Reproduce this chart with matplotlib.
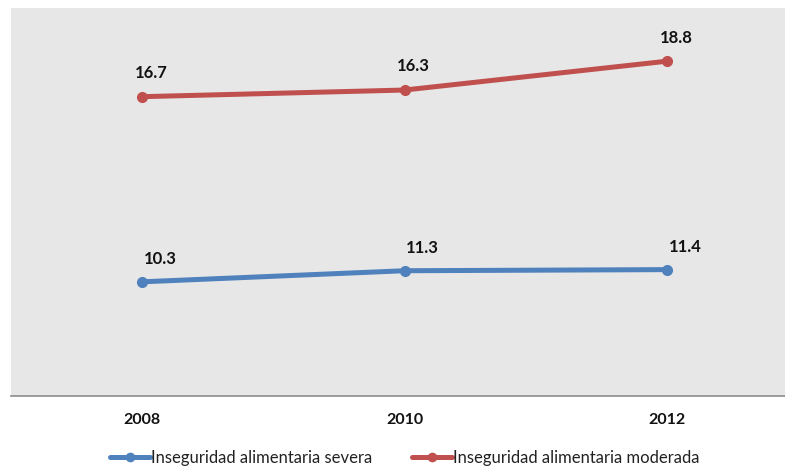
import matplotlib
matplotlib.use("Agg")
import matplotlib.pyplot as plt
import numpy as np

years = ["2008", "2010", "2012"]
severa = [10.3, 11.3, 11.4]
moderada = [16.7, 16.3, 18.8]
series_names = ["Inseguridad alimentaria severa", "Inseguridad alimentaria moderada"]

plt.rcParams['font.family'] = ['Lato', 'DejaVu Sans']

W, H = 785, 470
fig = plt.figure(figsize=(W/100, H/100), dpi=100)
ax = fig.add_axes([11/W, 1 - 396/H, 787/W, 388/H])
ax.set_facecolor("#E7E7E7")

x = np.arange(len(years))
stack_mod = np.array(severa) + np.array(moderada)

blue = "#4F81BD"
red = "#C0504D"
l1, = ax.plot(x, severa, color=blue, lw=3.6, marker="o", ms=7, solid_capstyle="round", label=series_names[0])
l2, = ax.plot(x, stack_mod, color=red, lw=3.6, marker="o", ms=7, solid_capstyle="round", label=series_names[1])

for xi, v, y in zip(x, severa, severa):
    ax.annotate(f"{v:.1f}", (xi, y), xytext=(13, 16.5), textcoords="offset points",
                ha="center", va="center", fontsize=12, fontweight="bold", color="#111111")
for xi, v, y in zip(x, moderada, stack_mod):
    ax.annotate(f"{v:.1f}", (xi, y), xytext=(6.5, 17), textcoords="offset points",
                ha="center", va="center", fontsize=12, fontweight="bold", color="#111111")

ax.set_xlim(-0.5, 2.5)
ax.set_ylim(0, 35)
ax.set_yticks([])
ax.set_xticks(x)
ax.set_xticklabels(years, fontsize=11.5, fontweight="bold", color="#111111")
ax.tick_params(axis="x", length=0, pad=12)
for s in ["top", "left", "right"]:
    ax.spines[s].set_visible(False)
ax.spines["bottom"].set_color("#8C8C8C")
ax.spines["bottom"].set_linewidth(1.2)

fig.legend(handles=[l1, l2], loc="center", bbox_to_anchor=(405/W, 1 - 458/H), ncol=2,
           frameon=False, fontsize=12, handlelength=2.4, handletextpad=0.05,
           columnspacing=2.4, labelcolor="#222222", markerscale=0.85)

fig.savefig("out.png", dpi=100, facecolor="white")
